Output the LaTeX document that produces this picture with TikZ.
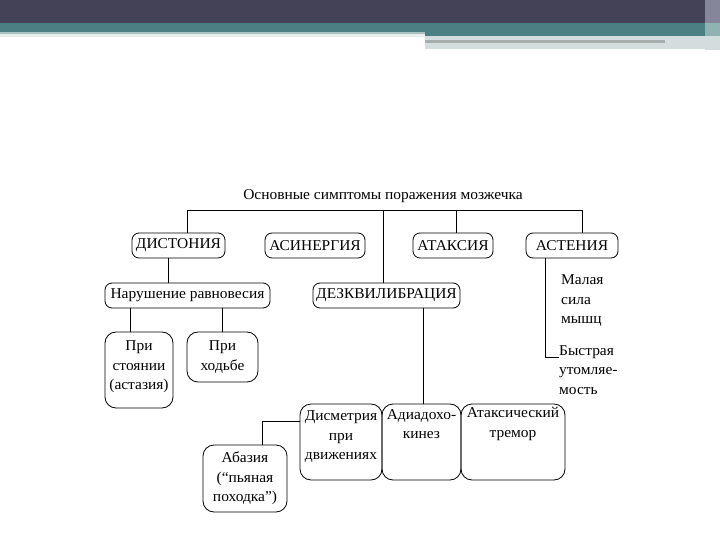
\documentclass[tikz,border=0pt]{standalone}
\usepackage{fontspec}
\setmainfont{Liberation Serif}[FakeStretch=1.03]
\definecolor{bandDark}{HTML}{434257}
\definecolor{bandTeal}{HTML}{4B7F83}
\definecolor{lightA}{HTML}{A9C1C1}
\definecolor{lightB}{HTML}{E6EDED}
\definecolor{lightC}{HTML}{D3DDDD}
\definecolor{greyBar}{HTML}{A6AEAE}
\definecolor{edgeDark}{HTML}{85869A}
\definecolor{edgeTeal}{HTML}{8FB3B3}
\begin{document}
\begin{tikzpicture}[x=1pt,y=-1pt,
  every node/.style={font=\fontsize{15}{19.5}\selectfont},
  box/.style={draw, line width=0.8pt, rounded corners=7pt, inner sep=0pt, align=center},
  tallbox/.style={box, rounded corners=11pt},
  plain/.style={inner sep=0pt, align=center},
  leftText/.style={inner sep=0pt, align=left, anchor=west},
  conn/.style={line width=0.8pt}]
\useasboundingbox (0,0) rectangle (720,540);
\fill[white] (0,0) rectangle (720,540);
% banner
\fill[bandDark] (0,0) rectangle (720,23);
\fill[bandTeal] (0,23) rectangle (720,32);
\fill[bandTeal] (425,32) rectangle (705,36);
\fill[lightA] (0,32) rectangle (425,34);
\fill[lightB] (0,34) rectangle (425,37);
\fill[lightC] (425,36) rectangle (705,49);
\fill[greyBar] (425,40) rectangle (665,43);
\fill[edgeDark] (705,0) rectangle (720,23);
\fill[edgeTeal] (705,23) rectangle (720,36);
\fill[lightC] (705,36) rectangle (720,50);

% title
\node[plain] (title) at (383,196) {Основные симптомы поражения мозжечка};

% row 1
\node[box, minimum width=93pt, minimum height=25pt] (dist) at (178.5,245.5) {ДИСТОНИЯ};
\node[box, minimum width=100pt, minimum height=25pt] (asin) at (315,245.5) {АСИНЕРГИЯ};
\node[box, minimum width=80pt, minimum height=25pt] (atax) at (453,245.5) {АТАКСИЯ};
\node[box, minimum width=92pt, minimum height=25pt] (aste) at (572,245.5) {АСТЕНИЯ};

% row 2
\node[box, minimum width=165pt, minimum height=25pt] (narush) at (187.5,295.5) {Нарушение равновесия};
\node[box, minimum width=147pt, minimum height=25pt] (dez) at (386.5,295.5) {ДЕЗКВИЛИБРАЦИЯ};

% astenia texts
\node[leftText] (malaya) at (561,301) {Малая\\сила\\мышц};
\node[leftText] (bystr) at (559,370) {Быстрая\\утомляе-\\мость};

% row 3
\node[tallbox, minimum width=68pt, minimum height=76pt] (stoy) at (139,370) {};
\node[plain] (stoyT) at (139,367) {При\\стоянии\\(астазия)};
\node[tallbox, minimum width=71pt, minimum height=50pt] (hod) at (222.5,357) {При\\ходьбе};

% row 4
\node[tallbox, minimum width=82pt, minimum height=76pt] (dism) at (341,442) {};
\node[plain] (dismT) at (341,437) {Дисметрия\\при\\движениях};
\node[tallbox, minimum width=79pt, minimum height=76pt] (adia) at (421.5,442) {};
\node[plain] (adiaT) at (421.5,424) {Адиадохо-\\кинез};
\node[tallbox, minimum width=104pt, minimum height=76pt] (trem) at (513,442) {};
\node[plain] (tremT) at (513,424) {Атаксический\\тремор};
\node[tallbox, minimum width=84pt, minimum height=67pt] (abaz) at (245,478.5) {Абазия\\(“пьяная\\походка”)};

% bus
\coordinate (busL) at (187,210);
\coordinate (busD) at (383,210);
\coordinate (busA) at (456,210);
\coordinate (busR) at (582,210);
\draw[conn] (busL) -- (busR);
\draw[conn] (busL) -- (busL |- dist.north);
\draw[conn] (busD) -- (busD |- dez.north);
\draw[conn] (busA) -- (busA |- atax.north);
\draw[conn] (busR) -- (busR |- aste.north);

% other connectors
\draw[conn] ([xshift=-10.5pt]dist.south) -- ([xshift=-10.5pt]dist.south |- narush.north);
\draw[conn] ([xshift=-9pt]stoy.north) -- ([xshift=-9pt]stoy.north |- narush.south);
\draw[conn] (hod.north) -- (hod.north |- narush.south);
\draw[conn] ([xshift=1.5pt]adia.north) -- ([xshift=1.5pt]adia.north |- dez.south);
\draw[conn] ([xshift=17pt]abaz.north) |- ([yshift=21pt]dism.west);
\draw[conn] ([xshift=-27pt]aste.south) |- ([yshift=-12pt]bystr.north west);
\end{tikzpicture}
\end{document}
